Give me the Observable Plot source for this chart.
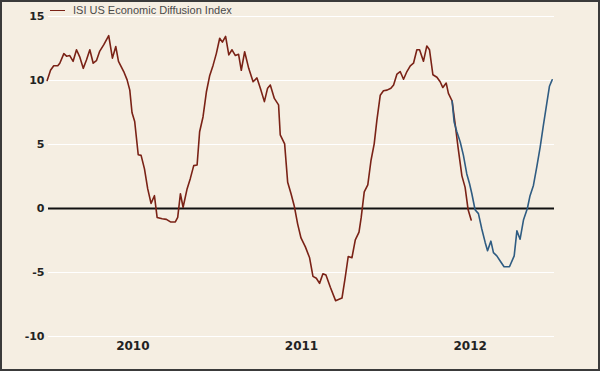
<!DOCTYPE html>
<html>
<head>
<meta charset="utf-8">
<script src="https://cdn.jsdelivr.net/npm/d3@7"></script>
<script src="https://cdn.jsdelivr.net/npm/@observablehq/plot@0.6"></script>
<style>
  html, body { margin: 0; padding: 0; background: #f5eee2; }
  #wrap { position: relative; width: 600px; height: 371px; background: #f5eee2; overflow: hidden; }
  #frame { position: absolute; left: 0; top: 0; width: 600px; height: 371px; box-sizing: border-box; border: 2px solid #3a3a3a; pointer-events: none; }
  #legend { position: absolute; left: 50px; top: 4px; font-family: "Liberation Sans", Arial, sans-serif; font-size: 11px; color: #4a4a4a; display: flex; align-items: center; }
  #legend .sw { width: 15px; height: 0; border-top: 1.6px solid #7a2216; margin-right: 8px; }
  svg { display: block; }
</style>
</head>
<body>
<div id="wrap">
  <div id="chart"></div>
  <div id="legend"><span class="sw"></span><span>ISI US Economic Diffusion Index</span></div>
  <div id="frame"></div>
</div>
<script>
// Series: ISI US Economic Diffusion Index (x in fractional years)
const redYears = [2009.992,2010.012,2010.031,2010.055,2010.067,2010.091,2010.107,2010.126,2010.146,2010.166,2010.185,2010.206,2010.225,2010.245,2010.265,2010.284,2010.304,2010.328,2010.357,2010.379,2010.399,2010.415,2010.446,2010.466,2010.482,2010.495,2010.511,2010.532,2010.549,2010.569,2010.588,2010.608,2010.628,2010.644,2010.674,2010.699,2010.723,2010.752,2010.766,2010.782,2010.798,2010.822,2010.841,2010.861,2010.881,2010.896,2010.916,2010.936,2010.956,2010.976,2010.995,2011.015,2011.031,2011.050,2011.069,2011.088,2011.108,2011.127,2011.143,2011.163,2011.187,2011.213,2011.236,2011.256,2011.280,2011.299,2011.315,2011.339,2011.364,2011.374,2011.400,2011.418,2011.438,2011.457,2011.477,2011.497,2011.523,2011.548,2011.568,2011.588,2011.607,2011.627,2011.645,2011.671,2011.702,2011.740,2011.759,2011.777,2011.799,2011.819,2011.841,2011.854,2011.872,2011.893,2011.912,2011.931,2011.947,2011.967,2011.986,2012.007,2012.030,2012.046,2012.066,2012.085,2012.105,2012.125,2012.145,2012.164,2012.184,2012.200,2012.223,2012.243,2012.259,2012.279,2012.303,2012.322,2012.338,2012.358,2012.371,2012.393,2012.411,2012.428,2012.451,2012.470,2012.488,2012.506];
const redValues = [10.0,10.8,11.15,11.15,11.35,12.1,11.9,11.95,11.5,12.4,11.85,10.95,11.6,12.4,11.35,11.55,12.3,12.8,13.5,11.75,12.65,11.5,10.7,10.05,9.25,7.5,6.8,4.2,4.15,3.1,1.55,0.4,1.0,-0.7,-0.8,-0.85,-1.05,-1.05,-0.7,1.15,0.1,1.55,2.35,3.35,3.4,6.0,7.15,9.1,10.4,11.2,12.1,13.3,13.0,13.45,12.0,12.4,11.95,12.05,10.8,12.25,10.95,9.9,10.2,9.4,8.35,9.4,9.65,8.6,8.1,5.75,5.05,2.05,1.15,0.2,-1.2,-2.3,-3.0,-3.85,-5.3,-5.45,-5.85,-5.1,-5.2,-6.15,-7.2,-7.0,-5.4,-3.75,-3.85,-2.45,-1.85,-0.7,1.3,1.85,3.75,5.05,6.9,8.85,9.2,9.25,9.4,9.65,10.5,10.7,10.1,10.7,11.15,11.35,12.4,12.4,11.5,12.7,12.4,10.45,10.25,9.9,9.45,9.8,9.0,8.4,6.6,4.8,2.55,1.65,-0.1,-0.9];
// Second (blue) series
const blueYears = [2012.393,2012.405,2012.421,2012.441,2012.460,2012.480,2012.496,2012.510,2012.529,2012.549,2012.569,2012.589,2012.603,2012.623,2012.638,2012.658,2012.678,2012.701,2012.733,2012.761,2012.777,2012.796,2012.816,2012.839,2012.855,2012.875,2012.895,2012.915,2012.934,2012.954,2012.970,2012.986];
const blueValues = [8.4,6.75,6.0,5.2,4.15,2.7,1.95,1.15,-0.1,-0.4,-1.6,-2.65,-3.3,-2.55,-3.45,-3.7,-4.1,-4.55,-4.55,-3.7,-1.75,-2.4,-0.9,0.0,1.0,1.8,3.25,4.8,6.5,8.2,9.55,10.05];

const yTicks = [-10, -5, 0, 5, 10, 15];
const gridTicks = [-10, -5, 5, 10, 15];
const xLabelYears = [2010, 2011, 2012];

const red = redYears.map((t, i) => ({t, v: redValues[i]}));
const blue = blueYears.map((t, i) => ({t, v: blueValues[i]}));

const chart = Plot.plot({
  width: 600,
  height: 371,
  marginLeft: 48,
  marginRight: 46,
  marginTop: 16,
  marginBottom: 35,
  style: {background: "transparent", fontFamily: "'DejaVu Sans', sans-serif", fontWeight: "bold", color: "#222"},
  x: {domain: [2010, 2013]},
  y: {domain: [-10, 15]},
  marks: [
    Plot.ruleY(gridTicks, {stroke: "#ffffff", strokeWidth: 1}),
    Plot.ruleY([0], {stroke: "#111", strokeWidth: 2}),
    Plot.axisY({ticks: yTicks, tickSize: 0, tickPadding: 4, label: null, fontSize: 11, tickFormat: d => String(d)}),
    Plot.axisX({ticks: xLabelYears.map(y => y + 0.5), tickSize: 0, tickPadding: 5, label: null, fontSize: 12, tickFormat: d => String(Math.floor(d))}),
    Plot.line(red, {x: "t", y: "v", stroke: "#7a2216", strokeWidth: 1.6, clip: false}),
    Plot.line(blue, {x: "t", y: "v", stroke: "#2f5c82", strokeWidth: 1.6, clip: false})
  ]
});
document.getElementById("chart").appendChild(chart);
</script>
</body>
</html>
